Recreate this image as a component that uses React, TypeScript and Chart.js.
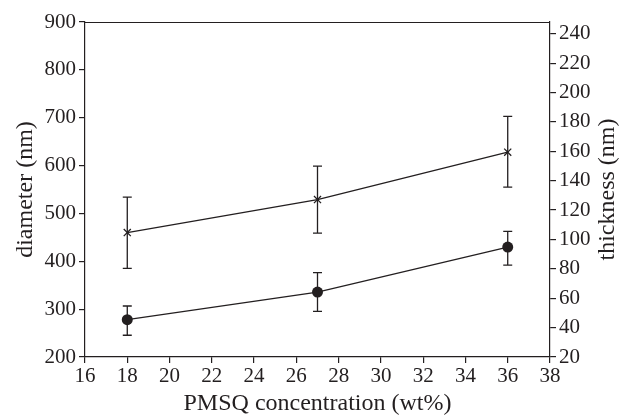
import React, { useEffect, useRef } from 'react';
import { Chart, registerables } from 'chart.js';

Chart.register(...registerables);

// PMSQ concentration (wt%)
const concentration = [18, 27, 36];
// diameter (nm) — crosses, left axis
const diameter = [460, 529, 628];
const diameterUpper = [534, 599, 703];
const diameterLower = [385, 459, 555];
// thickness (nm) — filled circles, right axis
const thickness = [45.4, 64.2, 94.8];
const thicknessUpper = [54.7, 77.4, 105.5];
const thicknessLower = [34.8, 51.1, 82.5];

const xLabel = 'PMSQ concentration (wt%)';
const yLabel = 'diameter (nm)';
const y1Label = 'thickness (nm)';

const FONT = "'Liberation Serif', 'Times New Roman', serif";
const INK = '#231f20';

const errorBars: Record<number, { upper: number[]; lower: number[] }> = {
  0: { upper: diameterUpper, lower: diameterLower },
  1: { upper: thicknessUpper, lower: thicknessLower },
};

const errorBarPlugin = {
  id: 'errorBars',
  afterDatasetsDraw(chart: any) {
    const ctx = chart.ctx;
    const xs = chart.scales.x;
    ctx.save();
    ctx.strokeStyle = INK;
    ctx.lineWidth = 1.3;
    chart.data.datasets.forEach((ds: any, i: number) => {
      const eb = errorBars[i];
      if (!eb) return;
      const ys = chart.scales[ds.yAxisID];
      ds.data.forEach((p: any, j: number) => {
        const x = xs.getPixelForValue(p.x);
        const yt = ys.getPixelForValue(eb.upper[j]);
        const yb = ys.getPixelForValue(eb.lower[j]);
        const cap = 4.5;
        ctx.beginPath();
        ctx.moveTo(x, yt);
        ctx.lineTo(x, yb);
        ctx.moveTo(x - cap, yt);
        ctx.lineTo(x + cap, yt);
        ctx.moveTo(x - cap, yb);
        ctx.lineTo(x + cap, yb);
        ctx.stroke();
      });
    });
    ctx.restore();
  },
};

const framePlugin = {
  id: 'frame',
  afterDraw(chart: any) {
    const { ctx, chartArea } = chart;
    ctx.save();
    ctx.strokeStyle = INK;
    ctx.lineWidth = 1.2;
    ctx.beginPath();
    ctx.moveTo(chartArea.left, chartArea.top + 0.5);
    ctx.lineTo(chartArea.right, chartArea.top + 0.5);
    ctx.stroke();
    // right axis title, reading bottom-to-top
    ctx.fillStyle = INK;
    ctx.font = `24px ${FONT}`;
    ctx.textAlign = 'center';
    ctx.textBaseline = 'middle';
    ctx.translate(chart.width - 11, (chartArea.top + chartArea.bottom) / 2);
    ctx.rotate(-Math.PI / 2);
    ctx.fillText(y1Label, 0, 0);
    ctx.restore();
  },
};

export default function App() {
  const ref = useRef<HTMLCanvasElement | null>(null);
  useEffect(() => {
    document.body.style.margin = '0';
    if (!ref.current) return;
    const tickFont = { family: FONT, size: 21 };
    const titleFont = { family: FONT, size: 24 };
    const chart = new Chart(ref.current, {
      type: 'line',
      data: {
        datasets: [
          {
            label: 'diameter',
            data: concentration.map((x, i) => ({ x, y: diameter[i] })),
            yAxisID: 'y',
            borderColor: INK,
            backgroundColor: INK,
            borderWidth: 1.3,
            pointStyle: 'crossRot',
            pointRadius: 5,
            pointBorderWidth: 1.3,
            fill: false,
            tension: 0,
          },
          {
            label: 'thickness',
            data: concentration.map((x, i) => ({ x, y: thickness[i] })),
            yAxisID: 'y1',
            borderColor: INK,
            backgroundColor: INK,
            borderWidth: 1.3,
            pointStyle: 'circle',
            pointRadius: 5.5,
            pointBorderWidth: 0,
            fill: false,
            tension: 0,
          },
        ],
      },
      options: {
        responsive: false,
        animation: false,
        layout: { padding: { top: 22, left: 0, right: 0, bottom: 0 } },
        plugins: { legend: { display: false }, tooltip: { enabled: false } },
        scales: {
          x: {
            type: 'linear',
            min: 16,
            max: 38,
            ticks: { stepSize: 2, color: INK, font: tickFont, padding: 1, maxRotation: 0 },
            grid: { drawOnChartArea: false, drawTicks: true, tickLength: 6, color: INK, lineWidth: 1.2 },
            border: { display: true, color: INK, width: 1.2 },
            title: { display: true, text: xLabel, color: INK, font: titleFont, padding: { top: 0, bottom: 0 } },
            afterFit(scale: any) { scale.height = 61; },
          },
          y: {
            type: 'linear',
            position: 'left',
            min: 200,
            max: 900,
            ticks: { stepSize: 100, color: INK, font: tickFont, padding: 3 },
            grid: { drawOnChartArea: false, drawTicks: true, tickLength: 6, color: INK, lineWidth: 1.2 },
            border: { display: true, color: INK, width: 1.2 },
            title: { display: true, text: yLabel, color: INK, font: titleFont, padding: { top: 11, bottom: 0 } },
            afterFit(scale: any) { scale.width = 85; },
          },
          y1: {
            type: 'linear',
            position: 'right',
            min: 20,
            max: 248,
            ticks: { stepSize: 20, includeBounds: false, autoSkip: false, color: INK, font: tickFont, padding: 3 },
            grid: { drawOnChartArea: false, drawTicks: true, tickLength: 6, color: INK, lineWidth: 1.2 },
            border: { display: true, color: INK, width: 1.2 },
            afterFit(scale: any) { scale.width = 69; },
          },
        },
      },
      plugins: [errorBarPlugin, framePlugin],
    });
    return () => chart.destroy();
  }, []);
  return (
    <div style={{ width: 619, height: 418 }}>
      <canvas ref={ref} width={619} height={418} style={{ display: 'block' }} />
    </div>
  );
}
